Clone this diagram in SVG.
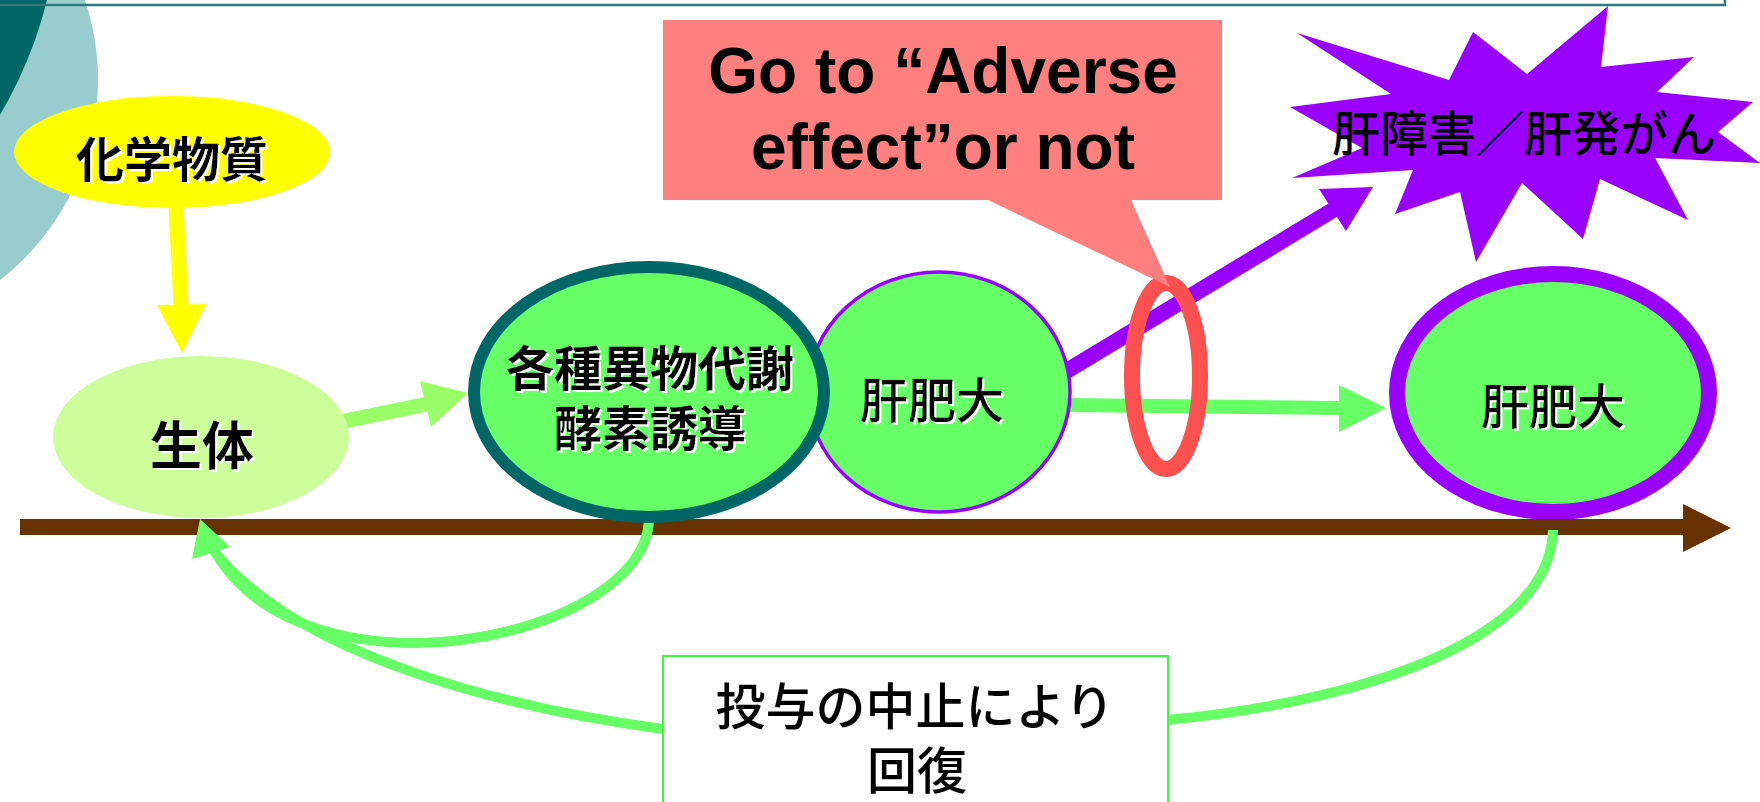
<svg xmlns="http://www.w3.org/2000/svg" width="1760" height="802" viewBox="0 0 1760 802">
<defs>
<style>
.cjk{font-family:"Noto Sans CJK JP","Noto Sans CJK SC",sans-serif;font-size:48px;font-weight:500;text-anchor:middle;dominant-baseline:central;fill:#000}
.b{font-weight:bold}
.sh{filter:url(#ws)}
.en{font-family:"Liberation Sans",Arial,sans-serif;font-weight:bold;font-size:64px;text-anchor:middle;fill:#000}
.gl{fill:none;stroke:#66FF66;stroke-width:10}
</style>
<filter id="ws" x="-10%" y="-20%" width="125%" height="150%">
<feDropShadow dx="2" dy="2" stdDeviation="0" flood-color="#FFFFFF" flood-opacity="1"/>
</filter>
</defs>
<rect width="1760" height="802" fill="#FFFFFF"/>
<g id="decor">
<circle cx="-155" cy="80" r="253" fill="#99CCCC"/>
<circle cx="-361" cy="-100" r="420" fill="#006666"/>
<polyline points="0,5 1725,5 1725,0" fill="none" stroke="#2F7A7A" stroke-width="2.5"/>
</g>
<g id="node-liver-right">
<ellipse cx="1553" cy="393" rx="156" ry="119" fill="#66FF66" stroke="#9900FF" stroke-width="16"/>
<text class="cjk sh" x="1553" y="403">肝肥大</text>
</g>
<g id="timeline">
<rect x="20" y="519" width="1664" height="16" fill="#663300"/>
<polygon points="1683,504 1731,528 1683,552" fill="#663300"/>
</g>
<g id="connectors">
<path d="M176,205 L181,307" stroke="#FFFF00" stroke-width="15" fill="none"/>
<polygon points="157,305 206,304 182,353" fill="#FFFF00"/>
<path d="M340,422 L427,404" stroke="#99FF66" stroke-width="15" fill="none"/>
<polygon points="420,381 431,427 468,393" fill="#99FF66"/>
<path d="M1065,405 L1340,408" stroke="#66FF66" stroke-width="14" fill="none"/>
<polygon points="1339,385 1339,432 1386,408" fill="#66FF66"/>
<path d="M1060,375 L1333,210" stroke="#9900FF" stroke-width="16" fill="none"/>
<polygon points="1319,189 1346,231 1373,187" fill="#9900FF"/>
<path class="gl" d="M649,520 C645,640 300,710 213,548"/>
<path class="gl" d="M663,729 C520,710 300,660 213,550"/>
<polygon points="200,519 230,547 192,559" fill="#66FF66"/>
<path class="gl" d="M1553,530 C1550,650 1330,705 1167,720"/>
</g>
<g id="node-liver-mid">
<ellipse cx="939" cy="392" rx="131" ry="120" fill="#66FF66" stroke="#9900FF" stroke-width="3.5"/>
<text class="cjk sh" x="932" y="397">肝肥大</text>
</g>
<g id="node-enzyme">
<ellipse cx="649" cy="392" rx="175" ry="125" fill="#66FF66" stroke="#006666" stroke-width="12"/>
<text class="cjk b sh" x="650" y="365">各種異物代謝<tspan x="650" dy="60">酵素誘導</tspan></text>
</g>
<g id="node-body">
<ellipse cx="201" cy="437" rx="148" ry="81" fill="#CCFF99"/>
<text class="cjk b sh" x="202" y="442" style="font-size:52px">生体</text>
</g>
<g id="node-chemical">
<ellipse cx="172" cy="152" rx="158" ry="56" fill="#FFFF00"/>
<text class="cjk b sh" x="172" y="156">化学物質</text>
</g>
<g id="marker-ring">
<ellipse cx="1166" cy="376" rx="34" ry="93" fill="none" stroke="#FF5050" stroke-width="16"/>
</g>
<g id="node-callout">
<polygon points="663,20 1222,20 1222,200 1131,200 1170,287 988,200 663,200" fill="#FF7F7F"/>
<text class="en" x="943" y="93">Go to “Adverse<tspan x="943" dy="76">effect”or not</tspan></text>
</g>
<g id="node-damage">
<polygon points="1297,33 1449,80 1473,32 1527,74 1608,6 1601,67 1694,57 1657,92 1753,102 1718,132 1760,163 1655,158 1688,220 1600,179 1583,239 1522,183 1476,262 1460,192 1395,214 1413,170 1292,178 1362,148 1290,107 1391,94" fill="#9900FF"/>
<text class="cjk" x="1524" y="130">肝障害／肝発がん</text>
</g>
<g id="node-recovery">
<rect x="663" y="656" width="505" height="200" fill="#FFFFFF" stroke="#33FF33" stroke-width="2"/>
<text class="cjk" x="915" y="703" style="font-size:50px">投与の中止により<tspan x="917" dy="64">回復</tspan></text>
</g>
</svg>
